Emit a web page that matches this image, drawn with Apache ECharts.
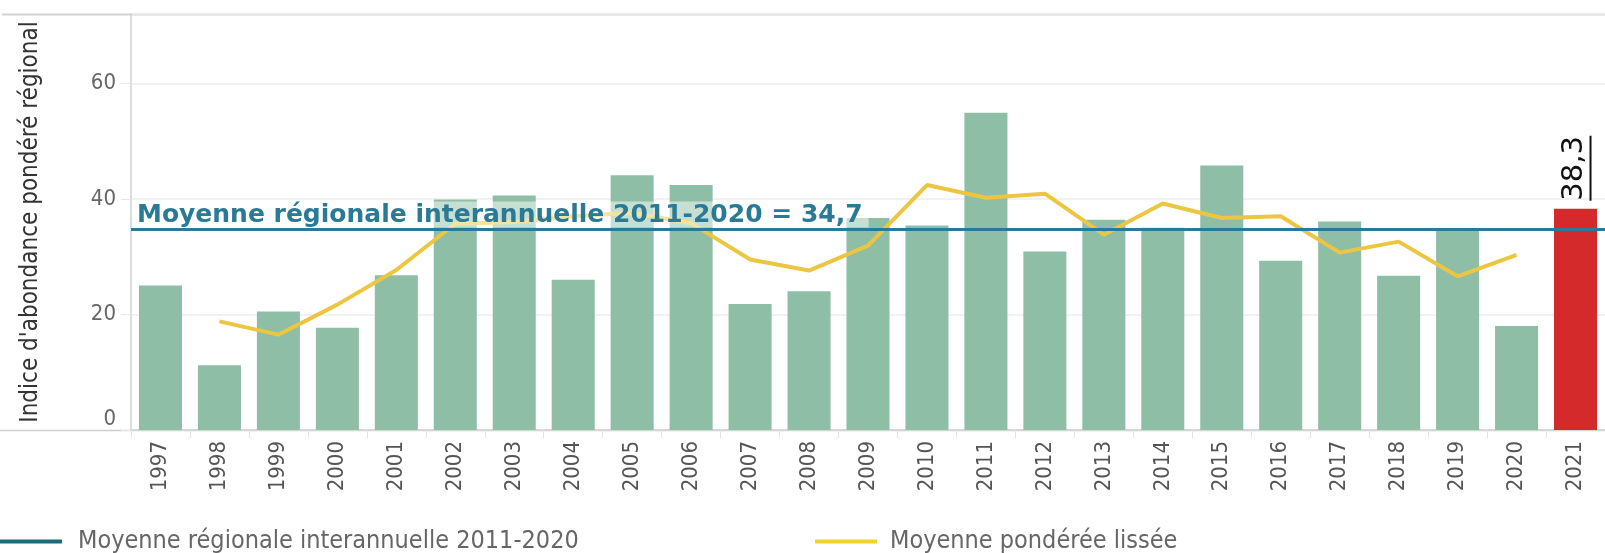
<!DOCTYPE html>
<html>
<head>
<meta charset="utf-8">
<script src="https://cdn.jsdelivr.net/npm/echarts@6/dist/echarts.min.js"></script>
<style>
  html, body { margin: 0; padding: 0; background: #fff; }
  #main { width: 1605px; height: 553px; }
</style>
</head>
<body>
<div id="main"></div>
<script>
// années
var annees = ['1997', '1998', '1999', '2000', '2001', '2002', '2003', '2004', '2005', '2006',
    '2007', '2008', '2009', '2010', '2011', '2012', '2013', '2014', '2015', '2016',
    '2017', '2018', '2019', '2020', '2021'];
// indice d'abondance pondéré régional (barres)
var indice = [25.0, 11.2, 20.5, 17.7, 26.8, 39.9, 40.6, 26.0, 44.1, 42.4,
    21.8, 24.0, 36.7, 35.4, 54.9, 30.9, 36.4, 35.0, 45.8, 29.3,
    36.1, 26.7, 34.8, 18.0, 38.3];
// moyenne pondérée lissée (courbe jaune)
var lissee = [null, 18.8, 16.5, 21.7, 27.7, 35.7, 36.0, 37.0, 37.6, 35.8,
    29.5, 27.6, 31.9, 42.4, 40.2, 40.9, 33.8, 39.2, 36.7, 37.0,
    30.7, 32.6, 26.6, 30.3, null];
// moyenne régionale interannuelle 2011-2020
var moyenne = 34.7;
var anneeCourante = '2021';

var nomMoyenne = 'Moyenne régionale interannuelle 2011-2020';
var nomLissee = 'Moyenne pondérée lissée';

function virgule(v) {
    return String(v).replace('.', ',');
}

var dom = document.getElementById('main');
var myChart = echarts.init(dom, null, { renderer: 'canvas' });

var barData = [];
for (var i = 0; i < indice.length; i++) {
    if (annees[i] === anneeCourante) {
        barData.push({
            value: indice[i],
            itemStyle: { color: '#d42a2b' },
            label: {
                show: true,
                position: 'top',
                distance: 8,
                rotate: 90,
                align: 'left',
                verticalAlign: 'middle',
                formatter: function (p) {
                    return '{v|' + virgule(p.value) + '}\n{u|}';
                },
                rich: {
                    v: { fontFamily: 'DejaVu Sans', fontSize: 29, color: '#111', lineHeight: 30 },
                    u: { width: 65, height: 2, backgroundColor: '#111' }
                }
            }
        });
    } else {
        barData.push(indice[i]);
    }
}

var police = 'DejaVu Sans Condensed';

var option = {
    animation: false,
    textStyle: { fontFamily: police },
    grid: {
        left: 131,
        right: -11,
        top: 14,
        bottom: 123,
        containLabel: false
    },
    graphic: [
        // filet du haut
        {
            type: 'line',
            shape: { x1: 2, y1: 14.5, x2: 1605, y2: 14.5 },
            style: { stroke: '#d2d2d2', lineWidth: 2 },
            z: 0
        },
        // filet du bas
        {
            type: 'line',
            shape: { x1: 0, y1: 430.5, x2: 1605, y2: 430.5 },
            style: { stroke: '#cfcfcf', lineWidth: 1.5 },
            z: 0
        }
    ],
    legend: [
        {
            data: [{ name: nomMoyenne, itemStyle: { color: '#1d6b77' } }],
            left: 0,
            top: 529,
            padding: 0,
            icon: 'rect',
            itemWidth: 62,
            itemHeight: 4,
            selectedMode: false,
            textStyle: { fontFamily: police, fontSize: 25, color: '#666', padding: [0, 0, 0, 11] }
        },
        {
            data: [{ name: nomLissee, itemStyle: { color: '#f2d22a' } }],
            left: 815,
            top: 529,
            padding: 0,
            icon: 'rect',
            itemWidth: 62,
            itemHeight: 4,
            selectedMode: false,
            textStyle: { fontFamily: police, fontSize: 25, color: '#666', padding: [0, 0, 0, 8] }
        }
    ],
    xAxis: {
        type: 'category',
        data: annees,
        boundaryGap: true,
        axisLine: { show: true, lineStyle: { color: '#cfcfcf', width: 1.5 } },
        axisTick: { show: true, length: 8, lineStyle: { color: '#e2e2e2' } },
        axisLabel: {
            interval: 0,
            rotate: 90,
            margin: 11,
            fontFamily: police,
            fontSize: 22,
            color: '#555'
        }
    },
    yAxis: {
        type: 'value',
        min: 0,
        max: 72,
        interval: 20,
        name: "Indice d'abondance pondéré régional",
        nameLocation: 'middle',
        nameGap: 88,
        nameTextStyle: { fontFamily: police, fontSize: 24, color: '#333' },
        axisLine: { show: true, lineStyle: { color: '#d0d0d0', width: 1.5 } },
        axisTick: { show: true, length: 10, lineStyle: { color: '#e6e6e6' } },
        axisLabel: {
            showMaxLabel: false,
            verticalAlignMinLabel: 'bottom',
            margin: 15,
            fontFamily: police,
            fontSize: 22,
            color: '#666'
        },
        splitLine: { show: true, lineStyle: { color: '#eeeeee', width: 1.5 } }
    },
    series: [
        {
            name: 'Indice',
            type: 'bar',
            barWidth: '73%',
            itemStyle: { color: '#8fbea7' },
            data: barData,
            z: 2
        },
        {
            name: nomLissee,
            type: 'line',
            data: lissee,
            showSymbol: false,
            symbol: 'none',
            lineStyle: { color: '#ecc640', width: 4 },
            itemStyle: { color: '#ecc640' },
            z: 3
        },
        {
            name: nomMoyenne,
            type: 'line',
            data: [],
            itemStyle: { color: '#2a7a96' },
            z: 4,
            markLine: {
                silent: true,
                symbol: 'none',
                lineStyle: { color: '#2a7a96', width: 3, type: 'solid' },
                label: {
                    show: true,
                    position: 'insideStartTop',
                    distance: 2,
                    formatter: nomMoyenne + ' = ' + virgule(moyenne),
                    fontFamily: 'DejaVu Sans',
                    fontWeight: 'bold',
                    fontSize: 25,
                    color: '#2a7a96',
                    backgroundColor: 'rgba(255,255,255,0.5)',
                    padding: [1, 6, 0, 4]
                },
                data: [{ yAxis: moyenne }]
            }
        }
    ]
};

myChart.setOption(option);
</script>
</body>
</html>
